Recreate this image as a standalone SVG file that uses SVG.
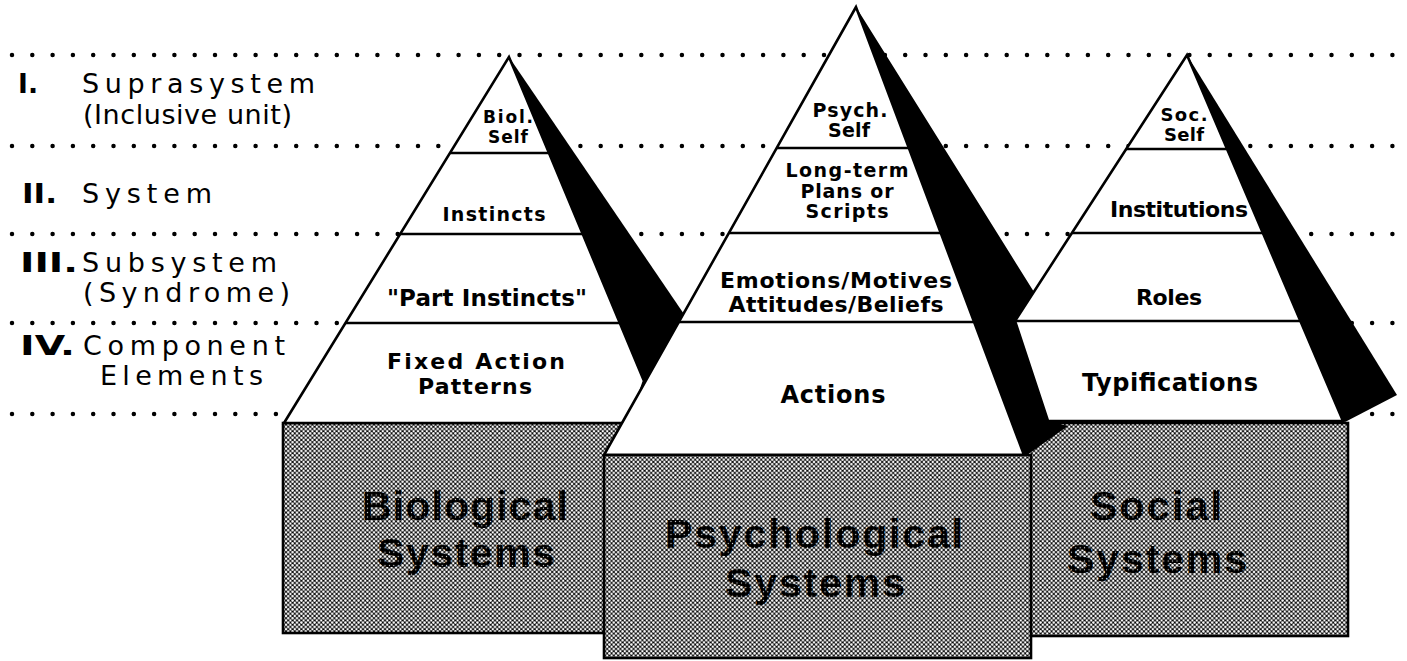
<svg xmlns="http://www.w3.org/2000/svg" width="1407" height="661" viewBox="0 0 1407 661">
  <defs>
    <!-- 50% halftone screen used for the system boxes -->
    <pattern id="halftone" width="4.4" height="4.4" patternUnits="userSpaceOnUse">
      <rect width="4.4" height="4.4" fill="#000"/>
      <circle cx="0" cy="0" r="1.25" fill="#fff"/>
      <circle cx="4.4" cy="0" r="1.25" fill="#fff"/>
      <circle cx="0" cy="4.4" r="1.25" fill="#fff"/>
      <circle cx="4.4" cy="4.4" r="1.25" fill="#fff"/>
      <circle cx="2.2" cy="2.2" r="1.25" fill="#fff"/>
    </pattern>
    <!-- darker screen for the lettering printed on the boxes -->
    <pattern id="ink" width="4.4" height="4.4" patternUnits="userSpaceOnUse">
      <rect width="4.4" height="4.4" fill="#000"/>
      <circle cx="2.2" cy="2.2" r="0.6" fill="#fff"/>
    </pattern>
    <style>
      .guide { stroke: #000; stroke-width: 4.5; stroke-linecap: round; stroke-dasharray: 0 20.3; fill: none; }
      .face { fill: #fff; stroke: #000; stroke-width: 2.6; stroke-linejoin: miter; }
      .band { stroke: #000; stroke-width: 2.4; fill: none; }
      .shade { fill: #000; stroke: none; }
      .box { fill: url(#halftone); stroke: #000; stroke-width: 2.6; }
      .lvl { font-family: "DejaVu Sans", Verdana, sans-serif; font-size: 27px; fill: #000; }
      .num { font-family: "DejaVu Sans", Verdana, sans-serif; font-size: 27px; font-weight: bold; fill: #000; }
      .lbl { font-family: "DejaVu Sans", Verdana, sans-serif; font-weight: bold; fill: #000; text-anchor: middle; }
      .big { font-family: "Liberation Sans", Arial, sans-serif; font-weight: bold; font-size: 41px; fill: url(#ink); text-anchor: middle; }
    </style>
  </defs>

  <!-- dotted level guides -->
  <g id="level-guides">
    <line class="guide" x1="12" y1="55" x2="1400" y2="55"/>
    <line class="guide" x1="12" y1="146" x2="1400" y2="146"/>
    <line class="guide" x1="12" y1="234" x2="1400" y2="234"/>
    <line class="guide" x1="12" y1="323" x2="1400" y2="323"/>
    <line class="guide" x1="12" y1="414" x2="1400" y2="414"/>
  </g>

  <!-- level names -->
  <g id="level-labels">
    <text class="num" x="18" y="93" textLength="20" lengthAdjust="spacingAndGlyphs">I.</text>
    <text class="lvl" x="82" y="93" textLength="233" lengthAdjust="spacing">Suprasystem</text>
    <text class="lvl" x="83" y="124" textLength="209" lengthAdjust="spacing">(Inclusive unit)</text>
    <text class="num" x="22" y="203" textLength="35" lengthAdjust="spacingAndGlyphs">II.</text>
    <text class="lvl" x="82" y="203" textLength="130" lengthAdjust="spacing">System</text>
    <text class="num" x="20" y="272" textLength="58" lengthAdjust="spacingAndGlyphs">III.</text>
    <text class="lvl" x="82" y="272" textLength="195" lengthAdjust="spacing">Subsystem</text>
    <text class="lvl" x="83" y="302" textLength="207" lengthAdjust="spacing">(Syndrome)</text>
    <text class="num" x="20" y="355" textLength="55" lengthAdjust="spacingAndGlyphs">IV.</text>
    <text class="lvl" x="83" y="355" textLength="202" lengthAdjust="spacing">Component</text>
    <text class="lvl" x="100" y="385" textLength="163" lengthAdjust="spacing">Elements</text>
  </g>

  <!-- Biological pyramid -->
  <g id="node-biological">
    <rect class="box" x="283" y="423" width="339" height="210"/>
    <polygon class="shade" points="509,57 705,345 644,381"/>
    <polygon class="face" points="509,57 284,423 630,423 644,381"/>
    <line class="band" x1="450" y1="153" x2="549" y2="153"/>
    <line class="band" x1="400" y1="234" x2="583" y2="234"/>
    <line class="band" x1="345" y1="323" x2="621" y2="323"/>
    <text class="lbl" x="508" y="123" font-size="17" textLength="50" lengthAdjust="spacing">Biol.</text>
    <text class="lbl" x="508" y="143" font-size="17" textLength="40" lengthAdjust="spacing">Self</text>
    <text class="lbl" x="494" y="221" font-size="19" textLength="103" lengthAdjust="spacing">Instincts</text>
    <text class="lbl" x="487" y="306" font-size="23" textLength="200" lengthAdjust="spacing">"Part Instincts"</text>
    <text class="lbl" x="476" y="369" font-size="22" textLength="178" lengthAdjust="spacing">Fixed Action</text>
    <text class="lbl" x="475" y="394" font-size="22" textLength="114" lengthAdjust="spacing">Patterns</text>
    <text class="big" x="465" y="520" textLength="206" lengthAdjust="spacing">Biological</text>
    <text class="big" x="466" y="567" textLength="178" lengthAdjust="spacing">Systems</text>
  </g>

  <!-- Social pyramid -->
  <g id="node-social">
    <rect class="box" x="1020" y="423" width="328" height="213"/>
    <polygon class="shade" points="1187,55 1397,395 1345,422 1343,421"/>
    <polygon class="face" points="1187,55 1015,321 1048,421 1343,421"/>
    <line class="band" x1="1126" y1="149" x2="1227" y2="149"/>
    <line class="band" x1="1072" y1="233" x2="1263" y2="233"/>
    <line class="band" x1="1015" y1="321" x2="1300" y2="321"/>
    <text class="lbl" x="1184" y="121" font-size="18" textLength="47" lengthAdjust="spacing">Soc.</text>
    <text class="lbl" x="1184" y="141" font-size="18" textLength="40" lengthAdjust="spacing">Self</text>
    <text class="lbl" x="1179" y="217" font-size="22" textLength="138" lengthAdjust="spacing">Institutions</text>
    <text class="lbl" x="1169" y="305" font-size="22" textLength="66" lengthAdjust="spacing">Roles</text>
    <text class="lbl" x="1170" y="391" font-size="24" textLength="176" lengthAdjust="spacing">Typifications</text>
    <text class="big" x="1156" y="520" textLength="132" lengthAdjust="spacing">Social</text>
    <text class="big" x="1157" y="573" textLength="180" lengthAdjust="spacing">Systems</text>
  </g>

  <!-- Psychological pyramid (front) -->
  <g id="node-psychological">
    <polygon class="shade" points="856,7 1034,292 1015,321 1048,421 1068,426 1027,455 1024,455"/>
    <polygon class="face" points="856,7 604,455 1024,455"/>
    <line class="band" x1="777" y1="148" x2="909" y2="148"/>
    <line class="band" x1="729" y1="233" x2="941" y2="233"/>
    <line class="band" x1="679" y1="322" x2="974" y2="322"/>
    <rect class="box" x="604" y="455" width="427" height="203"/>
    <text class="lbl" x="850" y="117" font-size="19" textLength="75" lengthAdjust="spacing">Psych.</text>
    <text class="lbl" x="849" y="137" font-size="19" textLength="42" lengthAdjust="spacing">Self</text>
    <text class="lbl" x="847" y="177" font-size="19" textLength="123" lengthAdjust="spacing">Long-term</text>
    <text class="lbl" x="847" y="198" font-size="19" textLength="93" lengthAdjust="spacing">Plans or</text>
    <text class="lbl" x="847" y="218" font-size="19" textLength="83" lengthAdjust="spacing">Scripts</text>
    <text class="lbl" x="836" y="288" font-size="22" textLength="232" lengthAdjust="spacing">Emotions/Motives</text>
    <text class="lbl" x="836" y="312" font-size="22" textLength="215" lengthAdjust="spacing">Attitudes/Beliefs</text>
    <text class="lbl" x="833" y="403" font-size="24" textLength="105" lengthAdjust="spacing">Actions</text>
    <text class="big" x="814" y="548" font-size="42" textLength="298" lengthAdjust="spacing">Psychological</text>
    <text class="big" x="815" y="597" font-size="42" textLength="180" lengthAdjust="spacing">Systems</text>
  </g>
</svg>
